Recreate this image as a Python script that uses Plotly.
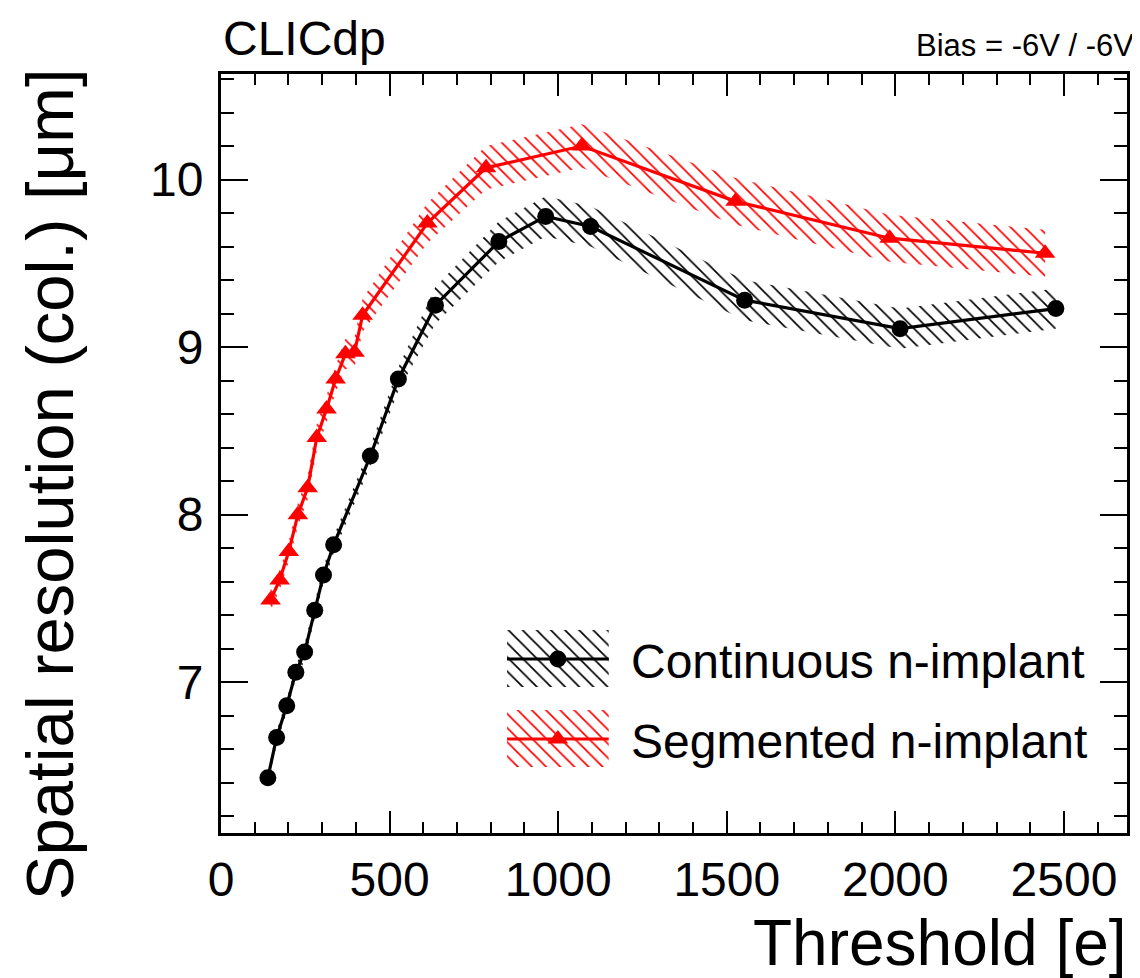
import plotly.graph_objects as go

# ---------------- data ----------------
thr_cont = [139, 165, 195, 222, 248, 278, 304, 334, 443, 526, 636, 824, 963, 1096, 1553, 2014, 2476]
res_cont = [6.43, 6.67, 6.86, 7.06, 7.18, 7.43, 7.64, 7.82, 8.35, 8.81, 9.25, 9.63, 9.78, 9.72, 9.28, 9.11, 9.23]
err_cont = [0.04, 0.04, 0.04, 0.04, 0.05, 0.05, 0.05, 0.05, 0.06, 0.07, 0.11, 0.12, 0.12, 0.12, 0.12, 0.12, 0.12]

thr_seg = [147, 174, 201, 228, 257, 284, 313, 340, 369, 396, 420, 612, 786, 1070, 1526, 1983, 2444]
res_seg = [7.49, 7.61, 7.78, 8.00, 8.16, 8.46, 8.63, 8.81, 8.96, 8.97, 9.19, 9.74, 10.07, 10.20, 9.87, 9.65, 9.56]
err_seg = [0.06, 0.06, 0.06, 0.07, 0.07, 0.08, 0.08, 0.08, 0.09, 0.09, 0.10, 0.12, 0.13, 0.13, 0.14, 0.14, 0.14]

series_names = ["Continuous n-implant", "Segmented n-implant"]

x_range = [0, 2687]
y_range = [6.1, 10.63]

colors = ["black", "red"]
symbols = ["circle", "triangle-up"]
msizes = [17, 18]

FONT = "Liberation Sans, Arial, Helvetica, sans-serif"

series = list(zip(series_names, [thr_cont, thr_seg], [res_cont, res_seg], [err_cont, err_seg],
                  colors, symbols, msizes))

# page has an 8px body margin: figure is shifted by OFF px
OFF = 8
W, H = 1140 - OFF, 978 - OFF
# plot area in page pixels (from the reference)
PL, PR, PT, PB = 221, 1130, 74, 833
L, T = PL - OFF, PT - OFF
R, B = W - (PR - OFF), H - (PB - OFF)
PW, PH = PR - PL, PB - PT


def px(xp):
    return (xp - PL) / PW


def py(yp):
    return (PB - yp) / PH


def hatch(col):
    return dict(shape="\\", fgcolor=col, fgopacity=1, bgcolor="rgba(0,0,0,0)",
                fillmode="replace", size=10, solidity=0.17)


fig = go.Figure()

# hatched uncertainty bands
for name, x, y, e, col, sym, msz in series:
    up = [v + d for v, d in zip(y, e)]
    lo = [v - d for v, d in zip(y, e)]
    fig.add_trace(go.Scatter(
        x=list(x) + list(x)[::-1], y=up + lo[::-1],
        fill="toself", mode="none", fillcolor=col,
        fillpattern=hatch(col), showlegend=False, hoverinfo="skip"))

# lines + markers
for name, x, y, e, col, sym, msz in series:
    fig.add_trace(go.Scatter(
        x=x, y=y, mode="lines+markers", name=name,
        line=dict(color=col, width=3.2),
        marker=dict(symbol=sym, size=msz, color=col),
        showlegend=False))

# ---- legend key drawn on an overlay axis (0..1 over the plot area) ----
leg_x0, leg_x1 = px(508), px(610)
leg_rows = [(630, 687, 659), (710, 767, 739)]   # box top, box bottom, line (page px)
for (name, x, y, e, col, sym, msz), (bt, bb, ly) in zip(series, leg_rows):
    y0, y1, yl = py(bb), py(bt), py(ly)
    fig.add_trace(go.Scatter(
        x=[leg_x0, leg_x1, leg_x1, leg_x0, leg_x0], y=[y0, y0, y1, y1, y0],
        xaxis="x2", yaxis="y2", fill="toself", mode="none", fillcolor=col,
        fillpattern=hatch(col), showlegend=False, hoverinfo="skip"))
    fig.add_trace(go.Scatter(
        x=[leg_x0, leg_x1], y=[yl, yl], xaxis="x2", yaxis="y2", mode="lines",
        line=dict(color=col, width=3.2), showlegend=False, hoverinfo="skip"))
    fig.add_trace(go.Scatter(
        x=[(leg_x0 + leg_x1) / 2], y=[yl], xaxis="x2", yaxis="y2", mode="markers",
        marker=dict(symbol=sym, size=msz, color=col), showlegend=False, hoverinfo="skip"))

axis_common = dict(
    showline=True, linewidth=3, linecolor="black", mirror="ticks",
    ticks="inside", tickwidth=2, tickcolor="black",
    showgrid=False, zeroline=False,
    tickfont=dict(family=FONT, size=48, color="black"),
)

fig.update_layout(
    xaxis=dict(range=x_range, dtick=500, tick0=0, ticklen=22,
               minor=dict(dtick=100, ticklen=11, ticks="inside", tickwidth=2, tickcolor="black", showgrid=False),
               ticklabelstandoff=2, **axis_common),
    yaxis=dict(range=y_range, dtick=1, tick0=0, ticklen=27,
               minor=dict(dtick=0.2, ticklen=13, ticks="inside", tickwidth=2, tickcolor="black", showgrid=False),
               ticklabelstandoff=5, **axis_common),
    xaxis2=dict(overlaying="x", range=[0, 1], visible=False, fixedrange=True),
    yaxis2=dict(overlaying="y", range=[0, 1], visible=False, fixedrange=True),
)

annotations = [
    dict(text="CLICdp", x=px(221), y=py(38), xanchor="left", yanchor="middle",
         font=dict(family=FONT, size=48, color="black")),
    dict(text="Bias = -6V / -6V", x=px(1139), y=py(46), xanchor="right", yanchor="middle",
         font=dict(family=FONT, size=31, color="black")),
    dict(text="Threshold [e]", x=px(1132), y=py(943), xanchor="right", yanchor="middle",
         font=dict(family=FONT, size=64, color="black")),
    dict(text="Spatial resolution (col.) [μm]", x=px(10), y=py(66), xanchor="left", yanchor="top",
         textangle=-90, font=dict(family=FONT, size=67, color="black")),
    dict(text="Continuous n-implant", x=px(630), y=py(661), xanchor="left", yanchor="middle",
         font=dict(family=FONT, size=48, color="black")),
    dict(text="Segmented n-implant", x=px(630), y=py(741), xanchor="left", yanchor="middle",
         font=dict(family=FONT, size=48, color="black")),
]
for a in annotations:
    a.update(xref="paper", yref="paper", showarrow=False)

fig.update_layout(
    width=W, height=H,
    margin=dict(l=L, r=R, t=T, b=B),
    paper_bgcolor="white", plot_bgcolor="white",
    annotations=annotations,
    showlegend=False,
)

fig.write_html("out.html")
